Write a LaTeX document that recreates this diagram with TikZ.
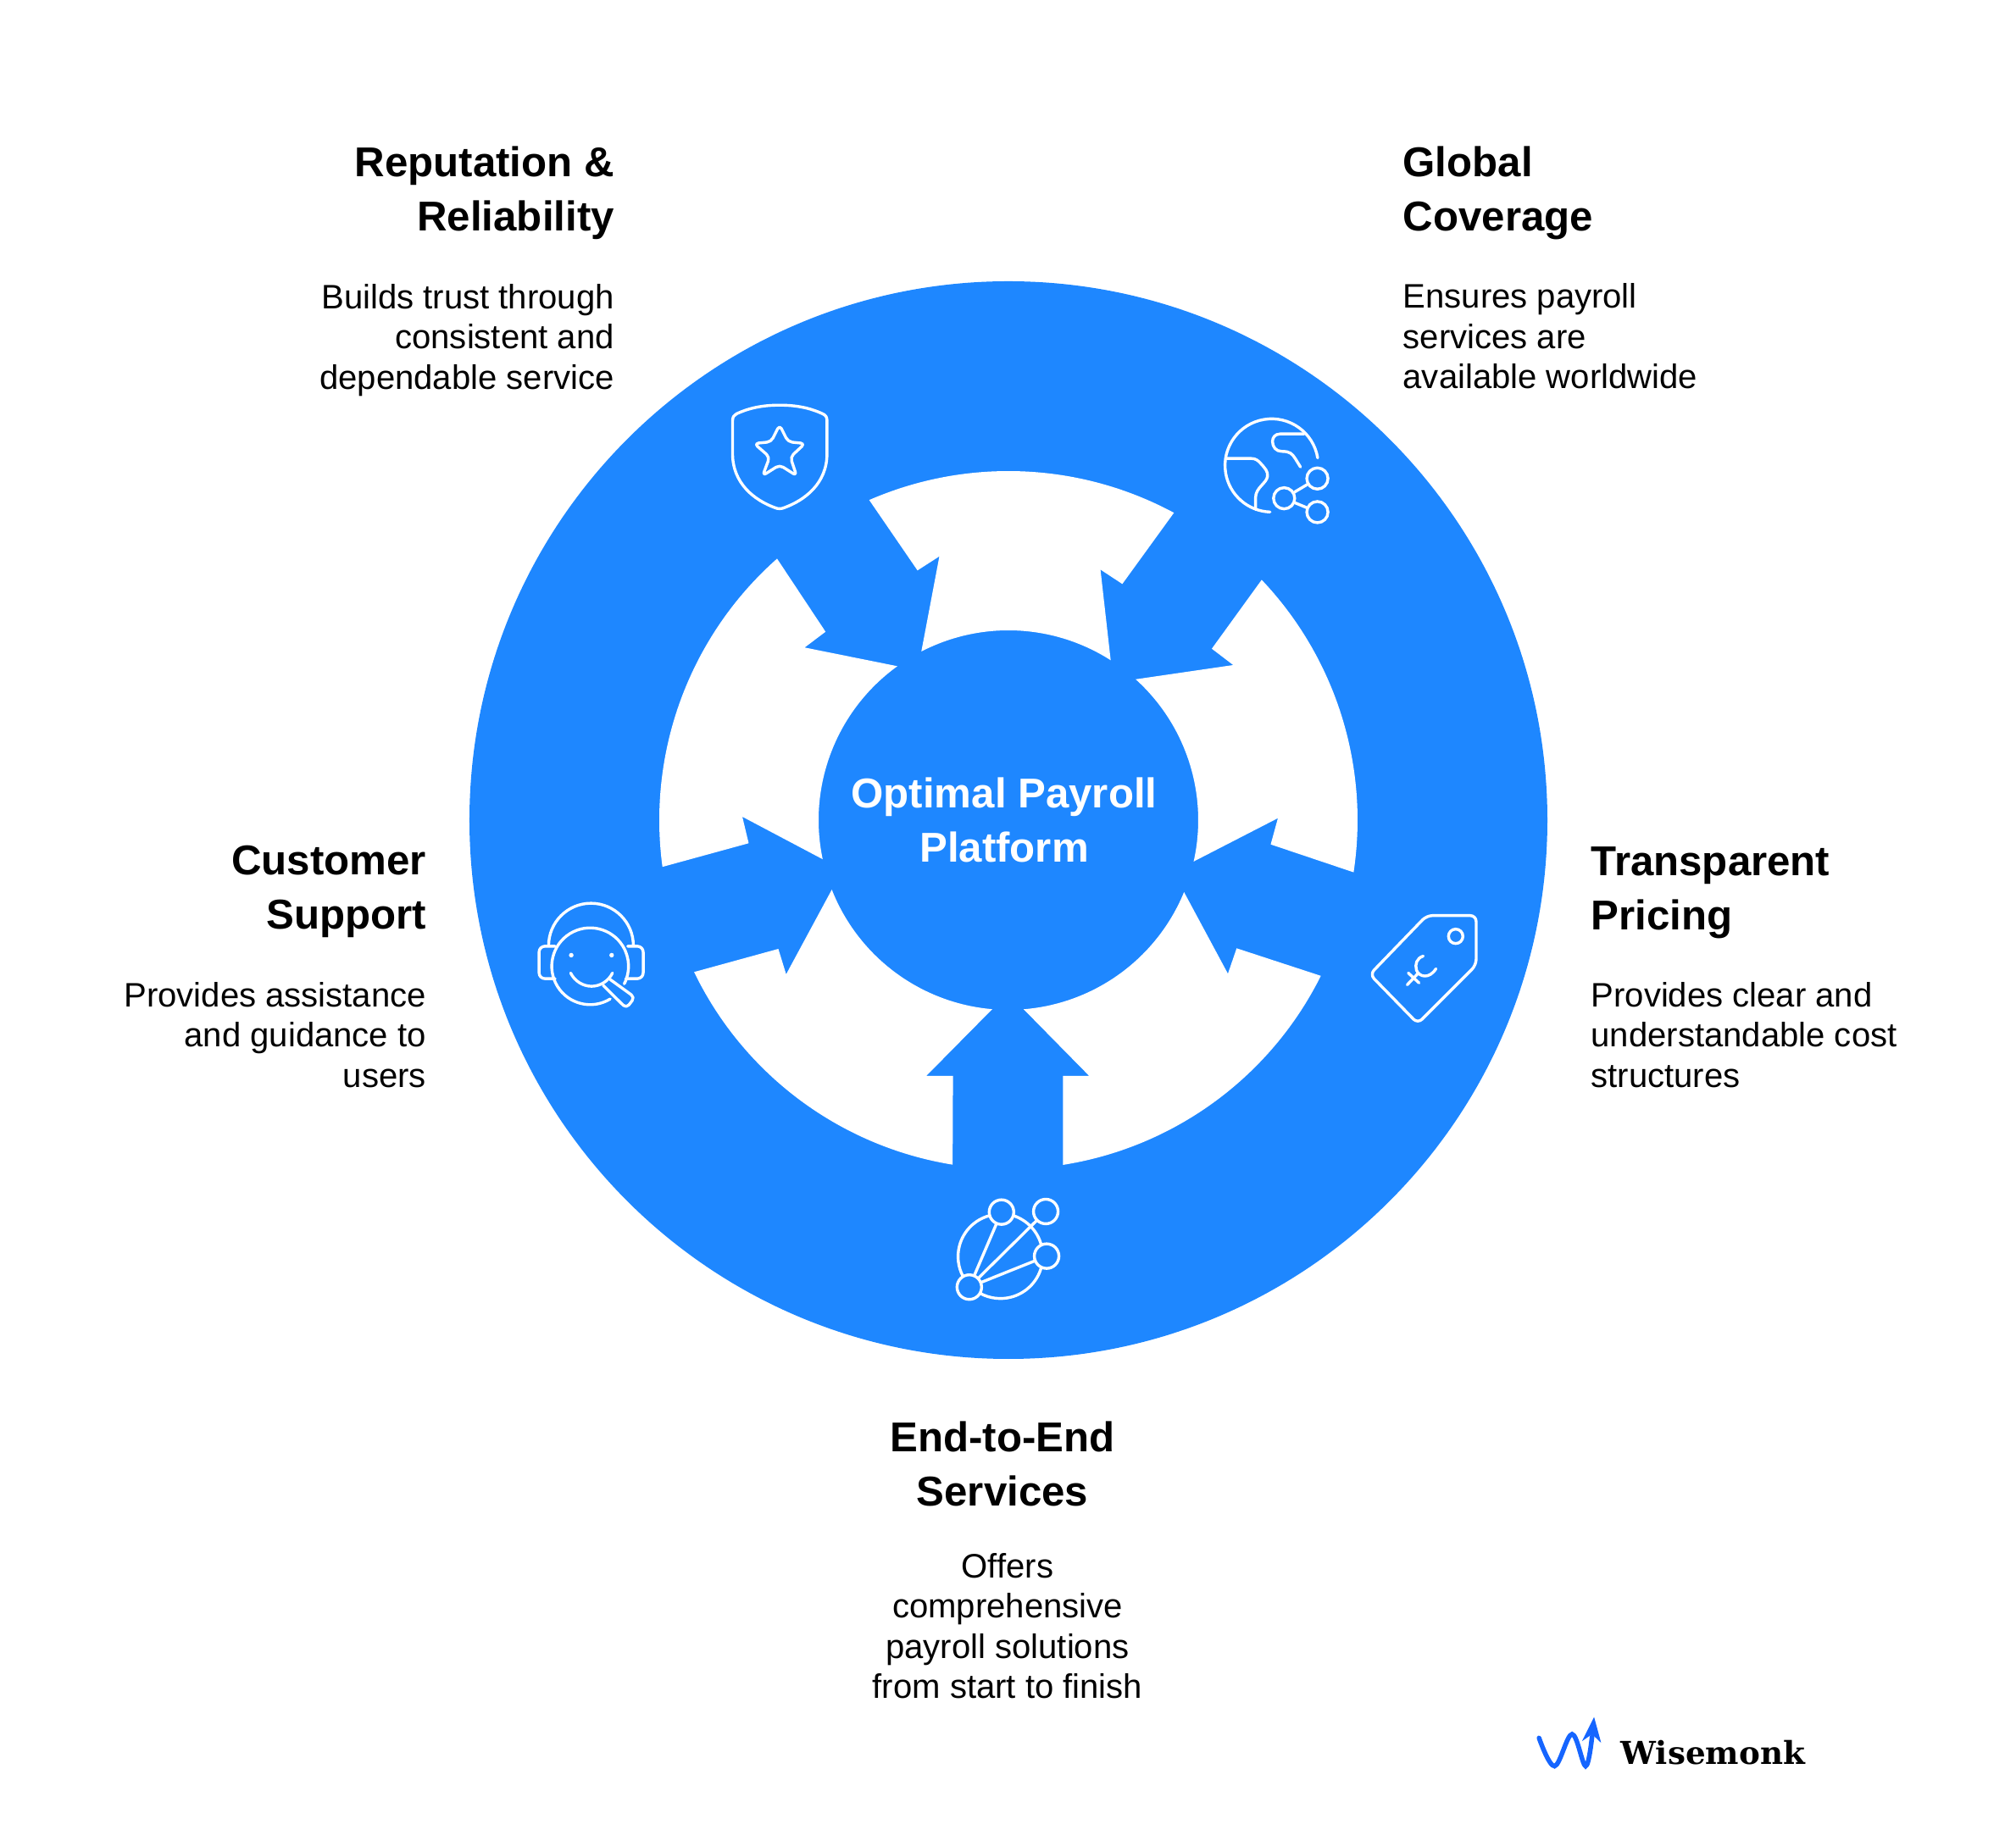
\documentclass[tikz,border=0pt]{standalone}
\usepackage{fontspec}
\setmainfont{Liberation Sans}
\newfontfamily\logofont{DejaVu Serif}
\definecolor{ringblue}{HTML}{1E87FF}
\definecolor{logoblue}{HTML}{1565FF}
\tikzset{
  headlbl/.style={font=\bfseries\fontsize{14}{18.2}\selectfont,inner sep=0pt,text=black},
  bodylbl/.style={font=\fontsize{11.4}{13.5}\selectfont,inner sep=0pt,text=black},
  gap/.style={fill=white},
  icon/.style={draw=white,line width=.034cm,line cap=round,line join=round},
  dotnode/.style={circle,draw=white,line width=.034cm,inner sep=0pt},
  pxgrid/.style={shift={(-11.895,9.672)},yscale=-1,x=.01cm,y=.01cm}
}
\begin{document}
\begin{tikzpicture}
  \useasboundingbox (-11.90,-11.92) rectangle (11.89,9.68);

  % ring
  \fill[ringblue] (0,0) circle (6.36);

  % white pieces between the arrows
  \fill[gap] (113.5:4.12) arc (113.5:61.7:4.12) -- (1.344,2.787) -- (1.086,2.957)
    -- (57.4:2.24) arc (57.4:117.3:2.24) -- (-0.815,3.113) -- (-1.073,2.947) -- cycle;
  \fill[gap] (131.5:4.12) arc (131.5:187.7:4.12) -- (-3.065,-0.273) -- (-3.14,0.04)
    -- (191.9:2.24) arc (191.9:125.8:2.24) -- (-2.405,2.037) -- (-2.158,2.223) -- cycle;
  \fill[gap] (43.5:4.12) arc (43.5:-8.6:4.12) -- (3.095,-0.287) -- (3.18,0.023)
    -- (-12.6:2.24) arc (-12.6:47.9:2.24) -- (2.653,1.83) -- (2.40,2.023) -- cycle;
  \fill[gap] (205.8:4.12) arc (205.8:260.8:4.12) -- (-0.654,-3.02) -- (-0.97,-3.02)
    -- (265.1:2.24) arc (265.1:201.5:2.24) -- (-2.623,-1.82) -- (-2.715,-1.52) -- cycle;
  \fill[gap] (-26.5:4.12) arc (-26.5:-81:4.12) -- (0.644,-3.02) -- (0.954,-3.02)
    -- (-85.4:2.24) arc (-85.4:-22.3:2.24) -- (2.59,-1.813) -- (2.693,-1.513) -- cycle;

  % centre
  \node[headlbl,text=white,align=center] (hub) at (-0.05,0) {Optimal Payroll\\Platform};

  % labels
  \node[headlbl,align=right,anchor=east] (reptitle) at (-4.645,7.405) {Reputation \&\\Reliability};
  \node[bodylbl,align=right,anchor=east] (reptext) at (-4.645,5.665) {Builds trust through\\consistent and\\dependable service};
  \node[headlbl,align=left,anchor=west] (globtitle) at (4.65,7.405) {Global\\Coverage};
  \node[bodylbl,align=left,anchor=west] (globtext) at (4.65,5.71) {Ensures payroll\\services are\\available worldwide};
  \node[headlbl,align=right,anchor=east] (suptitle) at (-6.865,-0.845) {Customer\\Support};
  \node[bodylbl,align=right,anchor=east] (suptext) at (-6.865,-2.535) {Provides assistance\\and guidance to\\users};
  \node[headlbl,align=left,anchor=west] (pricetitle) at (6.87,-0.86) {Transparent\\Pricing};
  \node[bodylbl,align=left,anchor=west] (pricetext) at (6.87,-2.535) {Provides clear and\\understandable cost\\structures};
  \node[headlbl,align=center] (endtitle) at (-0.07,-7.60) {End-to-End\\Services};
  \node[bodylbl,align=center] (endtext) at (-0.01,-9.51) {Offers\\comprehensive\\payroll solutions\\from start to finish};
  \node[font=\logofont\bfseries\fontsize{10.6}{12}\selectfont,inner sep=0pt,anchor=base west] (brand) at (7.22,-11.14) {Wisemonk};

  \begin{scope}[pxgrid]
    % shield
    \draw[icon] (920,477.7) .. controls (900,477.7) and (884,481) .. (869,488)
      .. controls (866,489.5) and (864.5,492) .. (864.5,496) -- (864.5,535)
      .. controls (864.5,570) and (890,590) .. (915,599)
      .. controls (918,600.3) and (922,600.3) .. (925,599)
      .. controls (950,590) and (976,570) .. (976,535) -- (976,496)
      .. controls (976,492) and (974.5,489.5) .. (971,488)
      .. controls (956,481) and (940,477.7) .. (920,477.7) -- cycle;
    \draw[icon,rounded corners=.05cm] (920,501) -- (930,521) -- (950,523) -- (932.7,539)
      -- (940,561) -- (920,548.3) -- (900,561) -- (908.3,539) -- (890,523) -- (910,521) -- cycle;

    % globe
    \draw[icon] (1555.3,540) arc[start angle=-9.3,end angle=-268,radius=.55cm];
    \draw[icon] (1447.3,540.7) -- (1477,540.7) .. controls (1482,540.7) and (1485,543) .. (1488,546.5)
      .. controls (1493,552) and (1497,556) .. (1496,562)
      .. controls (1495,570) and (1482,575) .. (1482,587) -- (1482,601);
    \draw[icon] (1539.3,511.7) -- (1511,511.7) .. controls (1505,511.7) and (1502,516) .. (1502,520.5)
      .. controls (1502,527) and (1506,532.3) .. (1513,532.3)
      .. controls (1523,532.3) and (1525,535) .. (1529,541) -- (1535,550.7);
    \node[dotnode,minimum size=.25cm] (globa) at (1515.7,587.7) {};
    \node[dotnode,minimum size=.25cm] (globb) at (1555,564.3) {};
    \node[dotnode,minimum size=.25cm] (globc) at (1555,604) {};
    \draw[icon] (globa) -- (globb);
    \draw[icon] (globa) -- (globc);

    % price tag
    \draw[icon,rounded corners=.07cm] (1684,1080.5) -- (1742.5,1080.5) -- (1742.5,1139)
      -- (1673.5,1208) -- (1617,1150) -- cycle;
    \node[dotnode,minimum size=.17cm] (taghole) at (1718.3,1105) {};
    \draw[icon] (1680,1128.3) .. controls (1672,1131) and (1670,1138) .. (1672,1145)
      .. controls (1675,1153) and (1687,1156) .. (1695,1143.3);
    \draw[icon] (1661,1162.3) -- (1674.3,1148.3);
    \draw[icon] (1662.3,1148.3) -- (1675,1160);

    % headset
    \draw[icon] (647.3,1116) arc[start angle=180,end angle=360,radius=.50cm];
    \draw[icon] (720.0,1179) arc[start angle=58.5,end angle=387.3,radius=.453cm];
    \draw[icon,rounded corners=.07cm] (655,1116.7) -- (636,1116.7) -- (636,1155) -- (655,1155);
    \draw[icon,rounded corners=.07cm] (740.7,1116.7) -- (759,1116.7) -- (759,1155) -- (738.3,1155);
    \foreach \eye in {674,721.7}
      \fill[white] (\eye,1127.3) circle (.027cm);
    \draw[icon] (673.3,1148.3) .. controls (678,1158) and (688,1164) .. (698,1164)
      .. controls (708,1164) and (718,1158) .. (722.7,1148.3);
    \draw[icon,rounded corners=.05cm] (720,1156) -- (749,1177) -- (739,1190) -- (711.7,1163);

    % network
    \node[dotnode,minimum size=.29cm] (neta) at (1144,1519.3) {};
    \node[dotnode,minimum size=.29cm] (netb) at (1182,1430.7) {};
    \node[dotnode,minimum size=.29cm] (netc) at (1234.3,1430) {};
    \node[dotnode,minimum size=.29cm] (netd) at (1235.3,1482.7) {};
    \foreach \point in {netb,netc,netd}
      \draw[icon] (neta) -- (\point);
    \draw[icon] (1167.3,1435) arc[start angle=254.4,end angle=152.2,radius=.50cm];
    \draw[icon] (1196.3,1435) arc[start angle=288.2,end angle=343.8,radius=.50cm];
    \draw[icon] (1229,1496) arc[start angle=15.4,end angle=118.3,radius=.50cm];

    % brand mark
    \draw[logoblue,line width=.055cm,line cap=round] plot[smooth,tension=.6]
      coordinates {(1816.7,2051.7) (1835,2085) (1855.7,2047.3) (1871.7,2085) (1879.3,2050)};
    \fill[logoblue] (1881.7,2027) -- (1867.5,2055.5) -- (1879.3,2047.3) -- (1890,2057.5) -- cycle;
  \end{scope}
\end{tikzpicture}
\end{document}
